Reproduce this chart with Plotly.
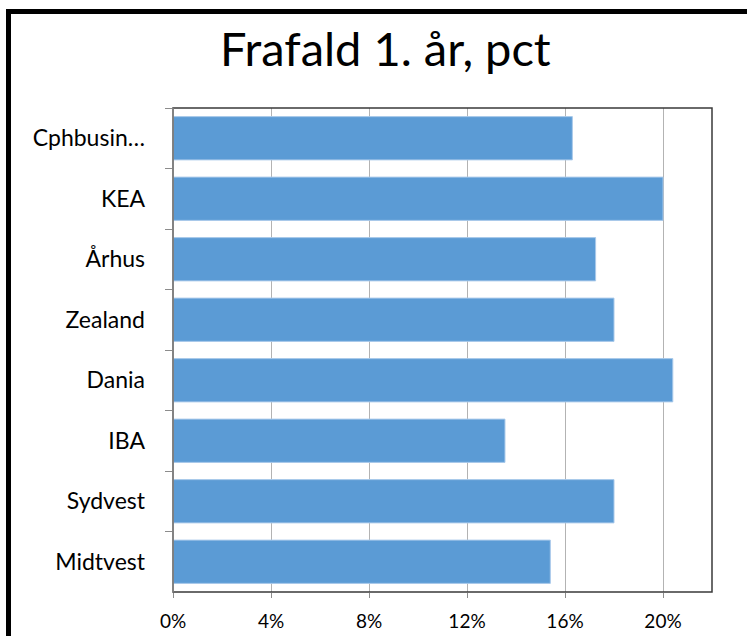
import plotly.graph_objects as go

categories = ["Cphbusin…", "KEA", "Århus", "Zealand", "Dania", "IBA", "Sydvest", "Midtvest"]
values = [0.163, 0.200, 0.1725, 0.180, 0.204, 0.1355, 0.180, 0.154]
x_ticks = [0, 0.04, 0.08, 0.12, 0.16, 0.20]
x_tick_labels = ["0%", "4%", "8%", "12%", "16%", "20%"]
title_text = "Frafald 1. år, pct"

W, H = 747, 636
L, R, T, B = 173, 35, 108, 44
pw, ph = W - L - R, H - T - B

def px_x(px):
    return (px - L) / pw

def px_y(py):
    return (H - B - py) / ph

font = "Lato, 'Open Sans', sans-serif"

fig = go.Figure(go.Bar(
    x=values, y=categories, orientation="h",
    marker=dict(color="#5B9BD5", line=dict(color="#A9C9EA", width=1)),
    hoverinfo="x+y",
))

fig.update_layout(
    width=W, height=H,
    margin=dict(l=L, r=R, t=T, b=B, autoexpand=False),
    paper_bgcolor="white", plot_bgcolor="white",
    bargap=0.285,
    showlegend=False,
    font=dict(family=font, color="black"),
    shapes=[
        dict(type="rect", xref="paper", yref="paper", x0=0, x1=1, y0=0, y1=1,
             line=dict(color="#3a3a3a", width=1.5), layer="above"),
        dict(type="line", xref="paper", yref="paper", x0=px_x(8.5), x1=px_x(780),
             y0=px_y(11.5), y1=px_y(11.5), line=dict(color="black", width=5)),
        dict(type="line", xref="paper", yref="paper", x0=px_x(8.5), x1=px_x(8.5),
             y0=px_y(9), y1=px_y(680), line=dict(color="black", width=5)),
        dict(type="line", xref="paper", yref="paper", x0=0, x1=0, y0=0, y1=1,
             line=dict(color="#8c8c8c", width=1.5), layer="above"),
    ],
    annotations=[
        dict(text=title_text, xref="paper", yref="paper", x=px_x(385), y=px_y(48),
             xanchor="center", yanchor="middle", showarrow=False,
             font=dict(family=font, size=47, color="black")),
    ],
)

fig.update_xaxes(
    range=[0, 0.22], tickvals=x_ticks, ticktext=x_tick_labels,
    showgrid=True, gridcolor="#b3b3b3", gridwidth=1,
    zeroline=False, showline=False,
    ticks="outside", ticklen=5, tickcolor="#8c8c8c",
    tickfont=dict(family=font, size=19, color="black"),
    ticklabelstandoff=7,
    fixedrange=True,
)
fig.update_yaxes(
    categoryorder="array", categoryarray=categories, autorange="reversed",
    tickson="boundaries", ticks="outside", ticklen=7, tickcolor="#8c8c8c",
    showgrid=False, zeroline=False, showline=False,
    tickfont=dict(family=font, size=23, color="black"),
    ticklabelstandoff=27,
    fixedrange=True,
)

fig.write_html("out.html", config={"displayModeBar": False},
               post_script="document.body.style.margin='0';")
